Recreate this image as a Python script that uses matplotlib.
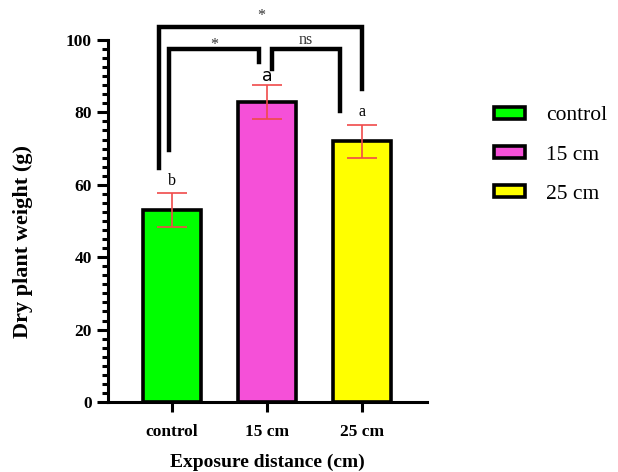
import matplotlib.pyplot as plt
from matplotlib.patches import Patch
from matplotlib.ticker import MultipleLocator

# datos del gráfico
groups = ['control', '15 cm', '25 cm']
weights = [53, 83, 72]
errors = [4.7, 4.7, 4.6]
colors = ['#00ff00', '#f550d8', '#ffff00']
letters = ['b', 'a', 'a']

# brackets: (left bar, right bar, top y, left foot y, right foot y, label, label y)
brackets = [
    (-0.13, 2.0, 103.6, 64.6, 86.5, '*', 104.3),
    (-0.03, 0.92, 97.5, 69.6, 93.9, '*', 96.4),
    (1.05, 1.77, 97.5, 92.0, 80.4, 'ns', 97.8),
]

plt.rcParams['font.family'] = ['Liberation Serif', 'DejaVu Serif']

fig = plt.figure(figsize=(6.18, 4.72), dpi=100)
ax = fig.add_axes([0.1748, 0.1483, 0.5162, 0.767])

x = list(range(len(groups)))
ax.bar(x, weights, width=0.61, color=colors, edgecolor='black', linewidth=2.6, zorder=2)
ax.errorbar(x, weights, yerr=errors, fmt='none', ecolor='#f04a4a', elinewidth=1.2,
            capsize=11, capthick=1.2, zorder=3)

# letras de significância
for i, (w, e, l) in enumerate(zip(weights, errors, letters)):
    if i == 1:
        ax.text(i, w + e - 0.1, l, ha='center', va='bottom', fontsize=12.5,
                family='DejaVu Sans')
    else:
        ax.text(i, w + e + 1.2, l, ha='center', va='bottom', fontsize=11.5)

for x0, x1, top, y0, y1, lab, ly in brackets:
    ax.plot([x0, x0, x1, x1], [y0, top, top, y1], color='black', lw=3.2,
            solid_joinstyle='miter', clip_on=False, zorder=4)
    ax.text((x0 + x1) / 2, ly, lab, ha='center', va='bottom', fontsize=11.5,
            color='#333333')

ax.set_xlim(-0.67, 2.68)
ax.set_ylim(0, 100)
ax.yaxis.set_major_locator(MultipleLocator(20))
ax.yaxis.set_minor_locator(MultipleLocator(2.5))
ax.set_xticks(x)
ax.set_xticklabels(groups, fontweight='bold', fontsize=12.5)
for t in ax.get_yticklabels():
    t.set_fontweight('bold')
    t.set_fontsize(12.5)

ax.spines['top'].set_visible(False)
ax.spines['right'].set_visible(False)
ax.spines['left'].set_linewidth(2.2)
ax.spines['bottom'].set_linewidth(2.2)
ax.tick_params(axis='y', which='major', length=8, width=2.2)
ax.tick_params(axis='y', which='minor', length=4.5, width=2.2)
ax.tick_params(axis='x', which='major', length=7, width=2.2, pad=9)

ax.set_xlabel('Exposure distance (cm)', fontweight='bold', fontsize=14, labelpad=10)
ax.set_ylabel('Dry plant weight (g)', fontweight='bold', fontsize=16)
ax.yaxis.set_label_coords(-0.235, 0.442)

handles = [Patch(facecolor=c, edgecolor='black', linewidth=2.6) for c in colors]
fig.legend(handles, groups, loc='upper left', bbox_to_anchor=(0.8, 0.7745),
           frameon=False, fontsize=15.5, handlelength=1.4, handleheight=0.45,
           handletextpad=1.0, labelspacing=0.94, borderpad=0, borderaxespad=0)

fig.savefig('out.png', dpi=100)
